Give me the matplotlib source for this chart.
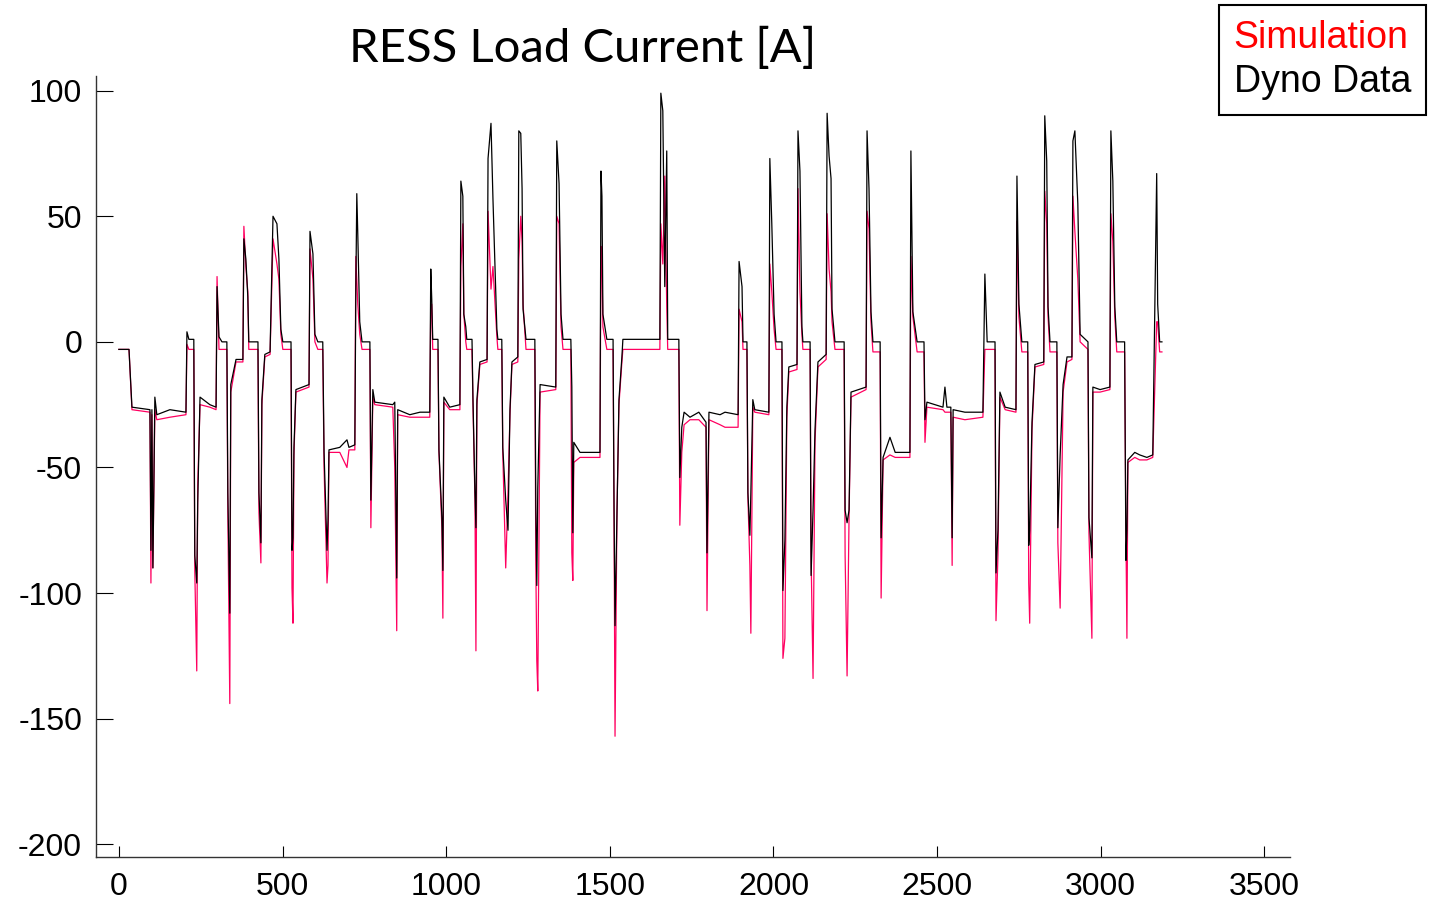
import matplotlib
matplotlib.use("Agg")
import matplotlib.pyplot as plt

plt.rcParams["axes.unicode_minus"] = False

# time [s], dyno-measured and simulated RESS current [A]
time_s = [0, 31, 40, 95, 98, 101, 104, 110, 116, 156, 205, 208, 214, 229, 232, 238, 241, 248, 278, 297,
          300, 306, 315, 330, 333, 339, 342, 358, 379, 382, 388, 394, 397, 425, 428, 434, 437, 446, 462, 471,
          483, 489, 495, 501, 526, 529, 532, 535, 541, 581, 584, 593, 599, 608, 623, 627, 636, 639, 642, 675,
          697, 703, 721, 724, 727, 730, 736, 743, 767, 770, 776, 782, 837, 843, 849, 852, 889, 920, 950, 953,
          956, 959, 975, 978, 987, 990, 993, 1011, 1042, 1045, 1051, 1054, 1060, 1063, 1079, 1082, 1088, 1091, 1094, 1103,
          1125, 1128, 1137, 1143, 1155, 1158, 1170, 1173, 1182, 1189, 1195, 1201, 1219, 1222, 1228, 1232, 1235, 1244, 1271, 1274,
          1277, 1280, 1287, 1335, 1338, 1345, 1351, 1357, 1381, 1384, 1387, 1390, 1409, 1470, 1473, 1476, 1479, 1491, 1510, 1513,
          1516, 1522, 1528, 1537, 1540, 1653, 1656, 1662, 1668, 1674, 1677, 1711, 1714, 1720, 1727, 1745, 1772, 1794, 1797, 1803,
          1837, 1852, 1892, 1895, 1904, 1907, 1919, 1922, 1928, 1931, 1937, 1943, 1986, 1989, 1995, 2002, 2008, 2026, 2029, 2035,
          2041, 2047, 2072, 2075, 2081, 2087, 2090, 2112, 2115, 2121, 2127, 2136, 2161, 2164, 2170, 2176, 2179, 2188, 2216, 2219,
          2225, 2231, 2237, 2283, 2286, 2292, 2298, 2304, 2326, 2329, 2335, 2356, 2372, 2417, 2420, 2426, 2439, 2460, 2463, 2469,
          2518, 2524, 2530, 2542, 2546, 2549, 2585, 2640, 2646, 2653, 2677, 2680, 2686, 2692, 2708, 2741, 2744, 2750, 2759, 2777,
          2780, 2783, 2790, 2799, 2826, 2829, 2835, 2839, 2845, 2866, 2869, 2876, 2885, 2897, 2912, 2915, 2921, 2930, 2937, 2961,
          2964, 2973, 2976, 2998, 3028, 3031, 3037, 3043, 3049, 3073, 3077, 3080, 3083, 3104, 3119, 3141, 3159, 3171, 3174, 3180,
          3187]

dyno = [-3, -3, -26, -27, -83, -27, -90, -22, -29, -27, -28, 4, 1, 1, -85, -96, -64, -22, -25, -26,
        22, 2, 0, 0, -60, -108, -17, -7, -7, 41, 33, 18, 0, 0, -60, -80, -23, -5, -4, 50,
        47, 33, 5, 0, 0, -83, -78, -42, -19, -17, 44, 35, 3, 0, 0, -44, -83, -71, -43, -42,
        -39, -42, -41, 20, 59, 43, 8, 0, 0, -63, -19, -24, -25, -24, -94, -27, -29, -28, -28, 29,
        17, 1, 1, -43, -70, -91, -22, -26, -25, 64, 58, 11, 6, 1, 1, -23, -60, -74, -23, -8,
        -7, 73, 87, 57, 5, 1, 1, -42, -63, -75, -27, -8, -6, 84, 83, 61, 13, 1, 1, -66,
        -97, -58, -17, -18, 80, 63, 11, 1, 1, -18, -76, -40, -44, -44, 68, 58, 11, 1, 1, -66,
        -113, -67, -23, -6, 1, 1, 99, 92, 22, 76, 1, 1, -54, -34, -28, -30, -28, -32, -84, -28,
        -29, -28, -29, 32, 22, 0, 0, -60, -77, -60, -23, -27, -28, 73, 47, 11, 0, 0, -99, -79,
        -26, -10, -9, 84, 68, 6, 0, 0, -93, -67, -35, -8, -5, 91, 74, 65, 13, 0, 0, -67,
        -72, -67, -20, -18, 84, 61, 12, 0, 0, -78, -46, -38, -44, -44, 76, 12, 0, 0, -31, -24,
        -26, -18, -26, -26, -78, -27, -28, -28, 27, 0, 0, -92, -75, -20, -26, -27, 66, 15, 0, 0,
        -81, -75, -32, -9, -8, 90, 72, 14, 0, 0, -74, -45, -17, -6, -6, 80, 84, 55, 3, 0,
        -70, -86, -18, -19, -18, 84, 64, 14, 0, 0, -87, -75, -47, -44, -45, -46, -45, 67, 15, 0,
        0]

simulation = [-3, -3, -27, -28, -96, -29, -90, -27, -31, -30, -29, -1, -3, -3, -91, -131, -57, -25, -26, -27,
              26, -3, -3, -3, -68, -144, -20, -8, -8, 46, 30, 20, -3, -3, -68, -88, -25, -6, -5, 41,
              31, 25, 3, -3, -3, -98, -112, -45, -20, -18, 37, 25, 0, -3, -3, -50, -96, -89, -44, -44,
              -50, -43, -43, 34, 25, 15, 3, -3, -3, -74, -22, -25, -26, -50, -115, -29, -30, -30, -30, 15,
              15, -3, -3, -44, -74, -110, -24, -27, -27, 30, 47, 11, 0, -3, -3, -25, -63, -123, -25, -9,
              -8, 52, 21, 30, 2, -3, -3, -44, -90, -60, -29, -9, -8, 33, 50, 40, 15, -3, -3, -89,
              -127, -139, -20, -19, 50, 47, 6, -3, -3, -84, -95, -48, -46, -46, 38, 30, 6, -3, -3, -71,
              -157, -67, -25, -8, -3, -3, 47, 31, 66, 14, -3, -3, -73, -44, -33, -31, -31, -34, -107, -31,
              -33, -34, -34, 13, 8, -3, -3, -62, -89, -116, -26, -28, -29, 31, 20, 5, -3, -3, -126, -118,
              -30, -12, -11, 61, 20, 3, -3, -3, -85, -134, -40, -10, -7, 51, 29, 20, 8, -3, -3, -85,
              -133, -70, -22, -19, 52, 45, 8, -4, -4, -102, -47, -45, -46, -46, 34, 10, -4, -4, -40, -26,
              -27, -28, -28, -28, -89, -30, -31, -30, -3, -3, -3, -111, -85, -22, -27, -28, 48, 10, -4, -4,
              -96, -112, -35, -10, -9, 60, 47, 10, -4, -4, -80, -106, -20, -8, -7, 58, 44, 25, 0, -3,
              -76, -118, -20, -20, -19, 51, 40, 10, -4, -4, -76, -118, -48, -46, -47, -47, -46, 8, 8, -4,
              -4]

x_ticks = [0, 500, 1000, 1500, 2000, 2500, 3000, 3500]
y_ticks = [-200, -150, -100, -50, 0, 50, 100]

fig = plt.figure(figsize=(14.32, 9), dpi=100)
ax = fig.add_axes([0.067, 0.048, 0.834, 0.868])

ax.plot(time_s, simulation, color="#ff0060", lw=0.9, label="Simulation")
ax.plot(time_s, dyno, color="black", lw=0.9, label="Dyno Data")

ax.set_xlim(-70, 3579)
ax.set_ylim(-205, 106)
ax.set_xticks(x_ticks)
ax.set_yticks(y_ticks)
for s in ["top", "right"]:
    ax.spines[s].set_visible(False)
for s in ["left", "bottom"]:
    ax.spines[s].set_color("#333333")
    ax.spines[s].set_linewidth(1.0)
ax.tick_params(axis="x", direction="in", length=8, pad=11, labelsize=23,
               labelfontfamily="Liberation Sans")
ax.tick_params(axis="y", direction="in", length=12, pad=10, labelsize=23,
               labelfontfamily="Liberation Sans")

fig.text(0.407, 0.946, "RESS Load Current [A]", ha="center", va="center",
         fontsize=34, family="Lato")

leg = ax.legend(loc="upper left", bbox_to_anchor=(0.851, 0.994),
                bbox_transform=fig.transFigure, borderaxespad=0,
                handlelength=0, handletextpad=0,
                labelcolor=["red", "black"], fancybox=False, framealpha=1,
                edgecolor="black", borderpad=0.4, labelspacing=0.2,
                prop={"family": "Liberation Sans", "size": 27})
leg.get_frame().set_linewidth(1.5)

fig.savefig("out.png", dpi=100)
